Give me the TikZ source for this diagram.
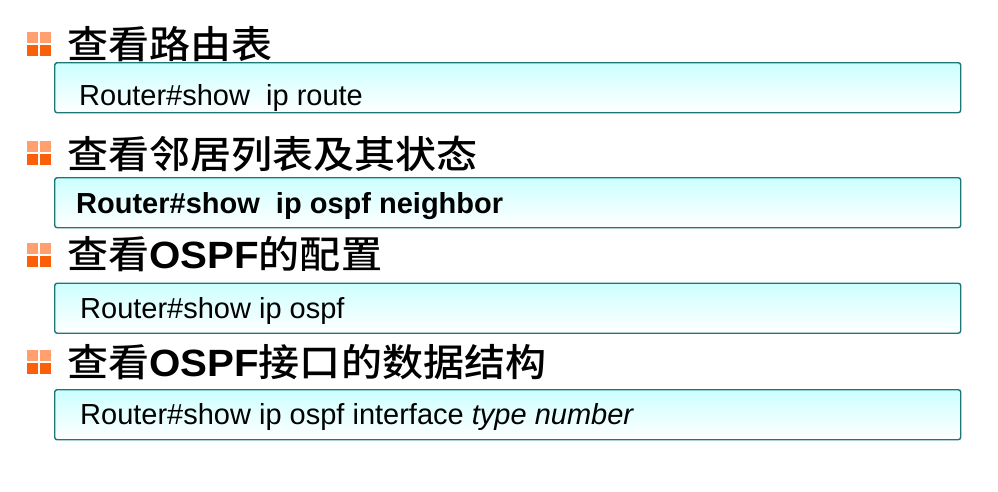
\documentclass[tikz,border=0pt]{standalone}
\usepackage{fontspec}
\setmainfont{Liberation Sans}
\newfontfamily\cmdfont{Liberation Sans}
\newfontfamily\latinh{Liberation Sans}[FakeStretch=1.06]
\newfontfamily\cjkh{Noto Sans CJK SC Medium}[FakeStretch=1.08]
\newcommand{\osp}{{\latinh\bfseries OSPF}}
\definecolor{boxedge}{RGB}{30,118,118}
\definecolor{boxtop}{RGB}{204,255,255}
\definecolor{bultop}{RGB}{255,160,110}
\definecolor{bulbot}{RGB}{250,95,10}
\tikzset{
  cmdbox/.style={draw=boxedge, line width=1.4pt, rounded corners=2.5pt,
    top color=boxtop, bottom color=white, minimum width=906pt,
    minimum height=50pt, anchor=north west, inner sep=0pt},
  cmdtext/.style={anchor=base west, inner sep=0pt,
    font=\cmdfont\fontsize{29}{31}\selectfont},
  headtext/.style={anchor=base west, inner sep=0pt,
    font=\cjkh\fontsize{38}{40}\selectfont},
  sqtop/.style={fill=bultop, draw=none},
  sqbot/.style={fill=bulbot, draw=none}
}
\newcommand{\bulletmark}[2]{%
  \fill[sqtop] (#1,#2) rectangle ++(11,11);
  \fill[sqtop] (#1+13,#2) rectangle ++(11,11);
  \fill[sqbot] (#1,#2+13) rectangle ++(11,11);
  \fill[sqbot] (#1+13,#2+13) rectangle ++(11,11);
}
\begin{document}
\begin{tikzpicture}[x=1pt,y=-1pt]
\useasboundingbox (0,0) rectangle (998,491);
% headings
\bulletmark{27}{32}
\node[headtext] (h1) at (67,58) {查看路由表};
\node[cmdbox] (b1) at (54,62) {};
\node[cmdtext] (t1) at (79,105) {Router\#show\ \ ip route};

\bulletmark{27}{141}
\node[headtext] (h2) at (67,168) {查看邻居列表及其状态};
\node[cmdbox] (b2) at (54,177) {};
\node[cmdtext, font=\cmdfont\bfseries\fontsize{29}{31}\selectfont] (t2) at (76,213) {Router\#show\ \ ip ospf neighbor};

\bulletmark{27}{243}
\node[headtext] (h3) at (67,268) {查看\osp 的配置};
\node[cmdbox] (b3) at (54,282.5) {};
\node[cmdtext] (t3) at (80,318) {Router\#show ip ospf};

\bulletmark{27}{350}
\node[headtext] (h4) at (67,376) {查看\osp 接口的数据结构};
\node[cmdbox] (b4) at (54,389) {};
\node[cmdtext] (t4) at (80,424) {Router\#show ip ospf interface \textit{type number}};
\end{tikzpicture}
\end{document}
